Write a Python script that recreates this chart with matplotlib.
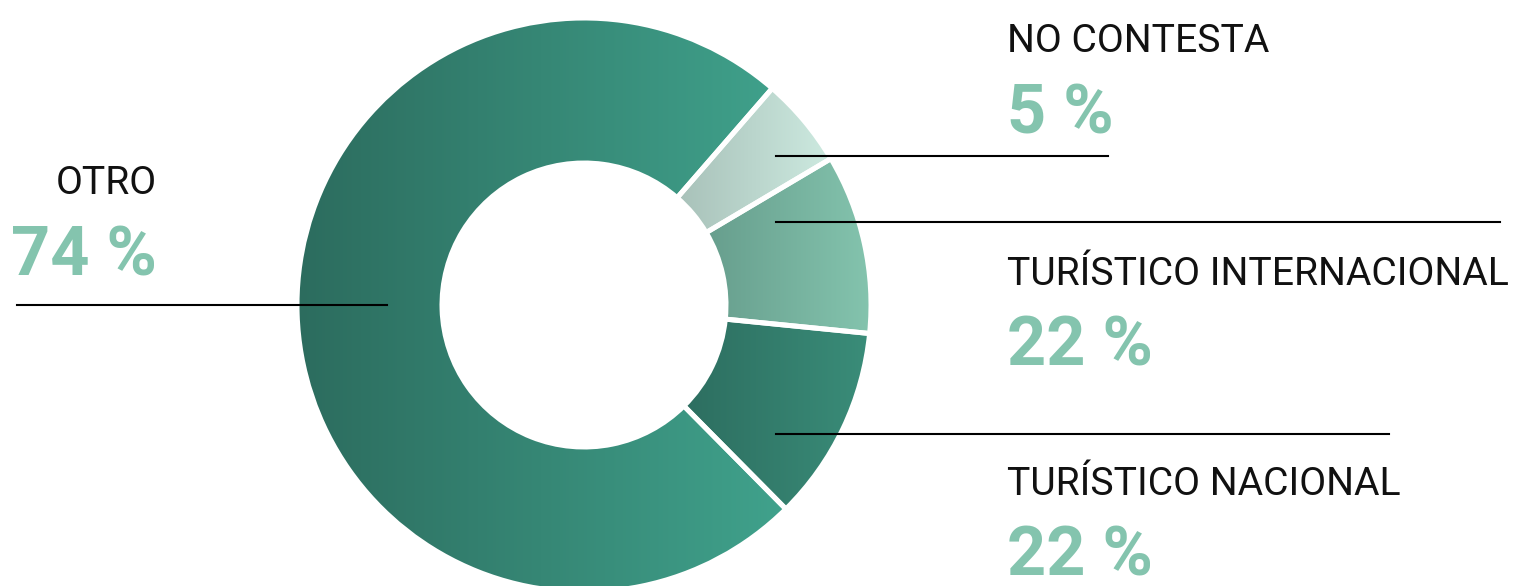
import matplotlib
matplotlib.use("Agg")
import matplotlib.pyplot as plt
import numpy as np
from matplotlib.colors import LinearSegmentedColormap

# slice order: counter-clockwise starting at lower right
categories = ["TURÍSTICO NACIONAL", "TURÍSTICO INTERNACIONAL", "NO CONTESTA", "OTRO"]
slice_shares = [11.0, 10.1, 5.1, 73.8]
label_pcts = [22, 22, 5, 74]

# left -> right gradient per slice
gradients = [
    ("#2d6e60", "#3a8d79"),
    ("#679e8d", "#84c4ae"),
    ("#a8c1b9", "#cdeae0"),
    ("#2c6c5e", "#40a28c"),
]

W, H = 1515, 586
plt.rcParams["font.family"] = ["Roboto", "DejaVu Sans"]


def Y(y):
    return H - y


fig = plt.figure(figsize=(W / 100, H / 100), dpi=100)
ax = fig.add_axes([0, 0, 1, 1])
ax.axis("off")

wedges, _ = ax.pie(
    slice_shares,
    center=(584, Y(305)),
    radius=287,
    startangle=-45.3,
    counterclock=True,
    wedgeprops=dict(width=145, edgecolor="white", linewidth=3.6, facecolor="none"),
)

for w, (c0, c1) in zip(wedges, gradients):
    w.set_zorder(3)
    ext = w.get_path().get_extents()
    cmap = LinearSegmentedColormap.from_list("g", [c0, c1])
    grad = np.linspace(0, 1, 256).reshape(1, -1)
    im = ax.imshow(grad, cmap=cmap, extent=[ext.x0, ext.x1, ext.y0, ext.y1],
                   aspect="auto", zorder=2, interpolation="bilinear")
    im.set_clip_path(w)

ax.set_xlim(0, W)
ax.set_ylim(0, H)
ax.set_aspect("auto")

# leader lines
lw = 1.5
ax.plot([17, 387], [Y(305), Y(305)], color="black", lw=lw, zorder=4)
ax.plot([776, 1108], [Y(156), Y(156)], color="black", lw=lw, zorder=4)
ax.plot([776, 1500], [Y(222), Y(222)], color="black", lw=lw, zorder=4)
ax.plot([776, 1389], [Y(434), Y(434)], color="black", lw=lw, zorder=4)

pct_color = "#84c4ae"

# (x, name baseline, pct baseline, ha)
label_pos = {
    "OTRO": (157, 194, 275, "right"),
    "NO CONTESTA": (1007, 52, 133, "left"),
    "TURÍSTICO INTERNACIONAL": (1007, 285, 365, "left"),
    "TURÍSTICO NACIONAL": (1007, 495, 575, "left"),
}

# no condensed font available: size the text so the widest label fits
renderer = fig.canvas.get_renderer()
probe = ax.text(0, 0, "TURÍSTICO INTERNACIONAL", fontsize=30)
name_size = 30 * 500 / probe.get_window_extent(renderer).width
probe.remove()
probe = ax.text(0, 0, "74 %", fontsize=50, fontweight="bold")
pct_size = 50 * 146 / probe.get_window_extent(renderer).width
probe.remove()

for cat, pct in zip(categories, label_pcts):
    x, yn, yp, ha = label_pos[cat]
    ax.text(x, Y(yn), cat, fontsize=name_size, color="#111111", ha=ha, va="baseline")
    ax.text(x, Y(yp), f"{pct} %", fontsize=pct_size, color=pct_color, fontweight="bold",
            ha=ha, va="baseline")

fig.savefig("out.png", dpi=100)
